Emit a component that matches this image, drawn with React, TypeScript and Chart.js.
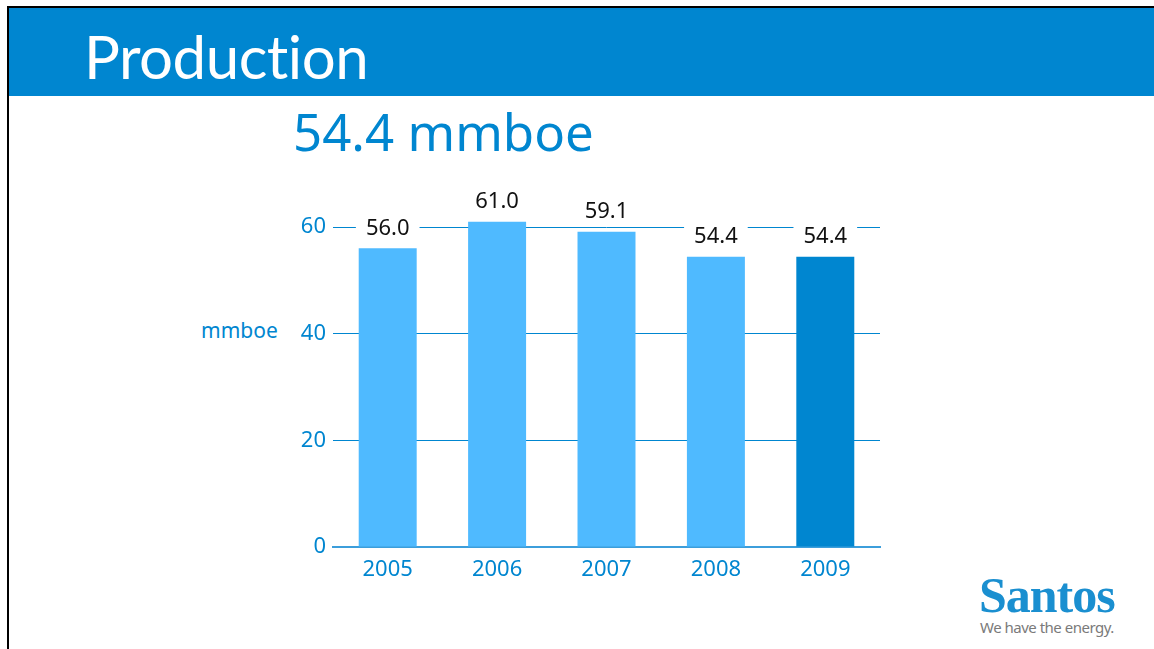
import React, { useEffect, useRef } from "react";
import { Chart, registerables } from "chart.js";

Chart.register(...registerables);

const categories = ["2005", "2006", "2007", "2008", "2009"];
const production = [56.0, 61.0, 59.1, 54.4, 54.4];
const barColors = ["#4FBAFF", "#4FBAFF", "#4FBAFF", "#4FBAFF", "#0086D0"];
const yTicks = [0, 20, 40, 60];

const BLUE = "#0086D0";
const FONT = "'Noto Sans', sans-serif";

const labelPlugin = {
  id: "barLabels",
  afterDatasetsDraw(chart: any) {
    const ctx = chart.ctx;
    const meta = chart.getDatasetMeta(0);
    ctx.save();
    ctx.font = `22px ${FONT}`;
    ctx.textAlign = "center";
    ctx.textBaseline = "middle";
    meta.data.forEach((bar: any, i: number) => {
      const txt = production[i].toFixed(1);
      const cx = bar.x;
      const cy = bar.y - 21;
      const w = ctx.measureText(txt).width + 20;
      ctx.fillStyle = "#ffffff";
      ctx.fillRect(cx - w / 2, cy - 14, w, 28);
      ctx.fillStyle = "#111111";
      ctx.fillText(txt, cx, cy + 1);
    });
    ctx.restore();
  },
};

export default function App() {
  const ref = useRef<HTMLCanvasElement | null>(null);

  useEffect(() => {
    if (!ref.current) return;
    const chart = new Chart(ref.current, {
      type: "bar",
      data: {
        labels: categories,
        datasets: [
          {
            data: production,
            backgroundColor: barColors,
            borderWidth: 0,
            barPercentage: 0.53,
            categoryPercentage: 1,
            clip: false as any,
          },
        ],
      },
      options: {
        animation: false,
        responsive: false,
        maintainAspectRatio: false,
        layout: { padding: { top: 56, right: 10, left: 0, bottom: 0 } },
        plugins: { legend: { display: false }, tooltip: { enabled: false } },
        scales: {
          x: {
            grid: { display: false },
            border: { display: true, color: "#3C9EDB", width: 2 },
            ticks: { color: BLUE, font: { family: FONT, size: 22 }, padding: 2 },
            afterFit: (s: any) => {
              s.height = 40;
            },
          },
          y: {
            min: 0,
            max: 60,
            afterBuildTicks: (s: any) => {
              s.ticks = yTicks.map((v) => ({ value: v }));
            },
            grid: {
              color: (c: any) => (c.tick && c.tick.value === 0 ? "rgba(0,0,0,0)" : BLUE),
              lineWidth: 1,
              drawTicks: false,
            },
            border: { display: false },
            ticks: {
              color: BLUE,
              font: { family: FONT, size: 22 },
              padding: 7,
            },
            afterFit: (s: any) => {
              s.width = 50;
            },
          },
        },
      },
      plugins: [labelPlugin],
    });
    return () => chart.destroy();
  }, []);

  return (
    <div
      style={{
        position: "fixed",
        left: 0,
        top: 0,
        width: 1154,
        height: 649,
        background: "#ffffff",
        overflow: "hidden",
      }}
    >
      <div
        style={{
          position: "absolute",
          left: 7,
          top: 6,
          width: 1147,
          height: 643,
          borderTop: "2px solid #000",
          borderLeft: "2px solid #000",
        }}
      />
      <div
        style={{
          position: "absolute",
          left: 9,
          top: 8,
          width: 1145,
          height: 88,
          background: BLUE,
        }}
      />
      <div
        style={{
          position: "absolute",
          left: 84,
          top: 18,
          color: "#ffffff",
          fontFamily: "Lato, sans-serif",
          fontSize: 60,
          lineHeight: "76px",
          letterSpacing: -0.5,
          whiteSpace: "nowrap",
        }}
      >
        Production
      </div>
      <div
        style={{
          position: "absolute",
          left: 293,
          top: 99,
          color: BLUE,
          fontFamily: FONT,
          fontSize: 51,
          lineHeight: "64px",
          whiteSpace: "nowrap",
        }}
      >
        54.4 mmboe
      </div>
      <div
        style={{
          position: "absolute",
          left: 201,
          top: 315,
          color: BLUE,
          fontFamily: FONT,
          fontSize: 21,
          lineHeight: "30px",
          whiteSpace: "nowrap",
        }}
      >
        mmboe
      </div>
      <canvas
        ref={ref}
        width={607}
        height={416}
        style={{ position: "absolute", left: 283, top: 171, width: 607, height: 416 }}
      />
      <div
        style={{
          position: "absolute",
          left: 979,
          top: 567,
          color: "#1A8FD0",
          fontFamily: "'Liberation Serif', serif",
          fontWeight: "bold",
          fontSize: 50,
          lineHeight: "56px",
          letterSpacing: -1,
          whiteSpace: "nowrap",
        }}
      >
        Santos
      </div>
      <div
        style={{
          position: "absolute",
          left: 980,
          top: 617,
          color: "#7A7A7A",
          fontFamily: "'Noto Sans', sans-serif",
          fontSize: 15,
          lineHeight: "20px",
          letterSpacing: -0.5,
          whiteSpace: "nowrap",
        }}
      >
        We have the energy.
      </div>
    </div>
  );
}
